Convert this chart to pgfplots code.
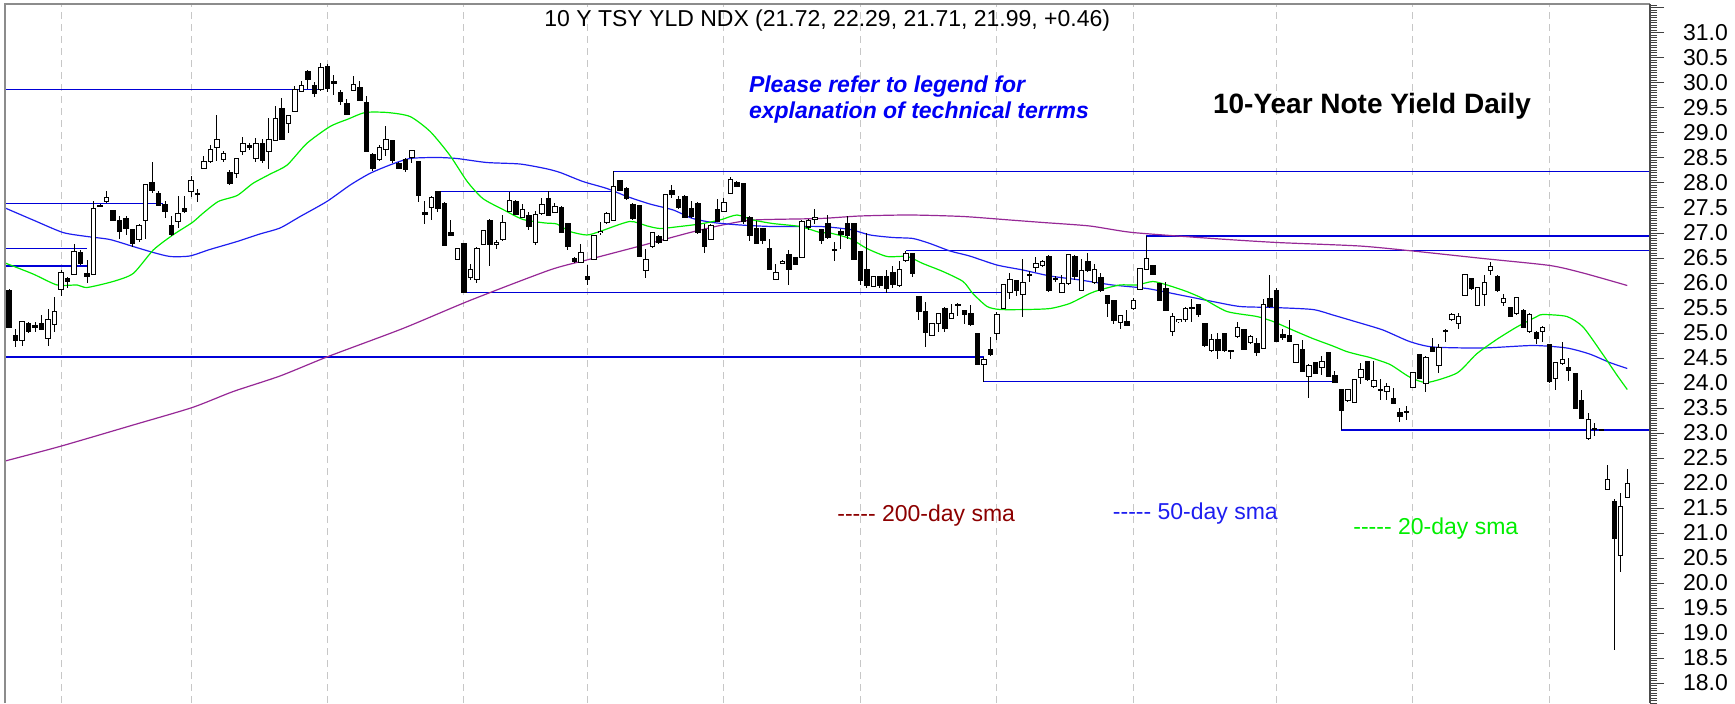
\documentclass[border=0pt]{standalone}
\usepackage{pgfplots}
\pgfplotsset{compat=1.18}
\usepackage{pgfplotstable}
\usepackage{fontspec}
\setmainfont{Liberation Sans}

\definecolor{smagreen}{RGB}{0,238,0}
\definecolor{smablue}{RGB}{30,30,240}
\definecolor{hlblue}{RGB}{0,0,215}
\definecolor{smapurple}{RGB}{150,40,150}
\definecolor{darkred}{RGB}{140,0,0}
\definecolor{noteblue}{RGB}{0,0,245}

% daily bars: index, open, high, low, close
\pgfplotstableread{
i o h l c
0 25.85 25.89 25.11 25.13
1 24.95 25.09 24.73 24.87
2 24.86 25.25 24.74 25.23
3 25.19 25.23 25.00 25.05
4 25.14 25.23 25.02 25.13
5 25.19 25.37 25.06 25.09
6 24.91 25.49 24.74 25.27
7 25.19 25.73 25.03 25.43
8 25.89 26.26 25.74 26.21
9 26.09 26.13 25.91 26.05
10 26.19 26.79 26.16 26.63
11 26.61 26.66 26.36 26.41
12 26.18 26.47 26.00 26.15
13 26.19 27.63 26.18 27.49
14 27.55 27.57 27.53 27.55
15 27.65 27.83 27.59 27.71
16 27.44 27.46 27.23 27.27
17 27.25 27.34 26.89 27.04
18 27.29 27.33 26.96 27.11
19 27.06 27.09 26.73 26.81
20 26.89 27.19 26.83 27.15
21 27.25 27.97 26.89 27.95
22 28.01 28.41 27.79 27.87
23 27.78 27.83 27.53 27.56
24 27.57 27.63 27.29 27.44
25 27.14 27.34 26.95 26.98
26 27.23 27.73 27.11 27.38
27 27.48 27.73 27.39 27.44
28 27.83 28.13 27.71 28.03
29 27.79 27.87 27.61 27.79
30 28.31 28.54 28.27 28.43
31 28.44 28.76 28.39 28.66
32 28.71 29.36 28.43 28.86
33 28.49 28.63 28.41 28.59
34 28.21 28.26 27.96 28.01
35 28.19 28.49 28.09 28.47
36 28.63 28.91 28.56 28.78
37 28.73 28.79 28.66 28.72
38 28.51 28.89 28.41 28.78
39 28.78 28.87 28.39 28.46
40 28.65 29.29 28.27 28.86
41 28.86 29.53 28.83 29.28
42 29.49 29.69 28.85 28.89
43 29.19 29.36 28.99 29.33
44 29.45 29.93 29.43 29.87
45 29.84 30.03 29.81 29.93
46 30.23 30.25 29.87 30.09
47 29.94 30.01 29.71 29.79
48 29.87 30.39 29.83 30.29
49 30.31 30.38 29.81 29.89
50 30.02 30.16 29.76 30.00
51 29.81 29.86 29.56 29.64
52 29.59 29.67 29.37 29.39
53 29.87 30.13 29.85 29.97
54 29.89 30.03 29.64 29.66
55 29.59 29.73 28.61 28.63
56 28.56 28.59 28.23 28.29
57 28.49 28.76 28.43 28.71
58 28.67 29.14 28.54 28.86
59 28.83 28.86 28.39 28.45
60 28.37 28.42 28.27 28.29
61 28.46 28.49 28.21 28.28
62 28.51 28.66 28.39 28.64
63 28.41 28.43 27.61 27.75
64 27.39 27.63 27.19 27.38
65 27.51 27.73 27.25 27.69
66 27.81 27.83 27.41 27.49
67 27.58 27.61 26.74 26.76
68 27.01 27.27 26.94 26.96
69 26.49 26.71 26.47 26.68
70 26.79 26.80 25.81 25.83
71 26.13 26.39 26.07 26.26
72 26.09 26.73 26.01 26.69
73 26.79 27.07 26.78 27.04
74 27.25 27.27 26.34 26.78
75 26.78 26.86 26.69 26.81
76 26.89 27.36 26.85 27.21
77 27.45 27.81 27.41 27.65
78 27.63 27.66 27.35 27.39
79 27.33 27.58 27.29 27.47
80 27.33 27.41 27.07 27.14
81 26.83 27.43 26.76 27.36
82 27.39 27.69 27.36 27.56
83 27.69 27.83 27.33 27.36
84 27.43 27.59 27.39 27.53
85 27.49 27.53 27.01 27.03
86 27.19 27.21 26.66 26.74
87 26.49 26.53 26.41 26.44
88 26.43 26.79 26.41 26.61
89 26.13 26.36 25.96 26.09
90 26.49 26.96 26.47 26.94
91 27.02 27.21 26.96 27.03
92 27.23 27.41 27.19 27.39
93 27.25 28.23 27.23 27.91
94 28.05 28.06 27.83 27.86
95 27.87 27.91 27.65 27.69
96 27.56 27.59 27.26 27.29
97 27.53 27.56 26.53 26.55
98 26.27 26.69 26.11 26.47
99 26.74 27.03 26.71 27.01
100 26.93 26.96 26.79 26.83
101 26.86 27.76 26.85 27.75
102 27.84 27.96 27.69 27.78
103 27.66 27.73 27.47 27.51
104 27.73 27.76 27.29 27.33
105 27.48 27.63 27.29 27.33
106 27.58 27.61 26.99 27.03
107 27.06 27.19 26.61 26.74
108 26.89 27.19 26.87 27.15
109 27.46 27.67 27.23 27.25
110 27.45 27.69 27.43 27.61
111 27.81 28.11 27.78 28.06
112 28.01 28.04 27.91 27.94
113 27.98 27.99 27.19 27.23
114 27.29 27.33 26.85 26.96
115 27.08 27.23 26.78 26.81
116 27.08 27.09 26.79 26.86
117 26.68 26.88 26.27 26.29
118 26.09 26.39 26.07 26.21
119 26.41 26.46 26.39 26.42
120 26.56 26.66 25.96 26.29
121 26.51 26.53 26.37 26.39
122 26.53 27.25 26.51 27.23
123 27.13 27.29 27.06 27.25
124 27.29 27.47 27.19 27.30
125 27.06 27.09 26.78 26.87
126 27.18 27.36 26.89 26.93
127 26.67 26.83 26.45 26.66
128 27.03 27.09 26.69 26.98
129 27.18 27.34 26.89 26.96
130 27.18 27.19 26.47 26.49
131 26.63 26.64 25.96 26.07
132 26.26 27.01 25.91 25.96
133 25.94 26.14 25.93 26.13
134 26.13 26.14 25.91 25.96
135 26.13 26.26 25.81 25.91
136 26.21 26.34 25.91 25.98
137 25.96 26.45 25.93 26.26
138 26.47 26.65 26.43 26.58
139 26.58 26.61 26.13 26.21
140 25.73 25.74 25.26 25.45
141 25.43 25.63 24.73 25.03
142 24.96 25.21 24.94 25.19
143 25.21 25.39 25.03 25.38
144 25.49 25.53 25.03 25.11
145 25.31 25.59 25.29 25.38
146 25.56 25.61 25.34 25.56
147 25.45 25.46 25.19 25.38
148 25.38 25.56 25.14 25.19
149 24.99 25.01 24.37 24.39
150 24.38 24.53 24.03 24.47
151 24.67 24.93 24.54 24.58
152 25.01 25.43 24.87 25.36
153 25.51 25.99 25.49 25.96
154 25.83 26.21 25.69 26.07
155 26.05 26.06 25.74 25.86
156 25.78 26.49 25.33 26.01
157 26.16 26.25 26.03 26.16
158 26.33 26.53 26.23 26.39
159 26.36 26.46 26.33 26.43
160 26.53 26.56 25.83 25.87
161 26.09 26.14 26.03 26.08
162 25.83 26.16 25.81 25.98
163 26.00 26.59 25.97 26.57
164 26.53 26.56 26.06 26.14
165 25.87 26.49 25.85 26.25
166 26.43 26.61 26.23 26.26
167 26.03 26.39 25.99 26.26
168 26.11 26.21 25.83 25.87
169 25.74 25.75 25.33 25.61
170 25.65 25.66 25.18 25.27
171 25.23 25.36 25.09 25.34
172 25.22 25.47 25.15 25.17
173 25.51 25.71 25.46 25.65
174 25.89 26.31 25.87 26.29
175 26.29 26.94 26.26 26.49
176 26.34 26.36 26.16 26.18
177 25.98 26.01 25.65 25.67
178 25.89 26.03 25.45 25.47
179 25.05 25.41 24.94 25.33
180 25.24 25.29 25.21 25.26
181 25.29 25.53 25.23 25.49
182 25.51 25.69 25.23 25.51
183 25.56 25.59 25.33 25.39
184 25.18 25.19 24.73 24.76
185 24.66 24.98 24.63 24.86
186 24.87 25.00 24.49 24.66
187 24.98 25.01 24.63 24.66
188 24.65 24.67 24.49 24.65
189 24.94 25.23 24.91 25.11
190 25.07 25.09 24.67 24.69
191 24.83 24.96 24.79 24.93
192 24.79 24.91 24.54 24.63
193 24.71 25.69 24.69 25.56
194 25.69 26.16 25.51 25.54
195 25.85 25.91 24.83 24.85
196 24.96 25.09 24.87 24.93
197 24.95 25.26 24.83 24.85
198 24.43 24.78 24.41 24.76
199 24.67 24.86 24.23 24.25
200 24.14 24.39 23.71 24.34
201 24.41 24.43 24.18 24.21
202 24.33 24.54 24.16 24.43
203 24.61 24.63 24.13 24.14
204 24.14 24.25 24.01 24.03
205 23.87 23.89 23.06 23.46
206 23.66 23.89 23.63 23.87
207 23.63 24.09 23.61 24.06
208 24.12 24.41 23.99 24.26
209 24.43 24.45 24.04 24.08
210 23.95 24.45 23.91 24.04
211 23.87 24.08 23.66 23.87
212 23.85 24.00 23.66 23.93
213 23.68 23.91 23.58 23.60
214 23.41 23.51 23.23 23.35
215 23.43 23.54 23.26 23.43
216 23.93 24.23 23.91 24.20
217 24.56 24.58 24.08 24.10
218 24.01 24.54 23.83 24.50
219 24.70 24.91 24.62 24.65
220 24.37 24.79 24.20 24.70
221 25.04 25.08 24.83 25.04
222 25.29 25.41 25.25 25.37
223 25.20 25.40 25.08 25.33
224 25.76 26.18 25.75 26.16
225 26.08 26.09 25.87 25.91
226 25.56 25.93 25.54 25.91
227 25.79 26.16 25.54 26.01
228 26.26 26.43 26.16 26.33
229 26.12 26.16 25.83 25.87
230 25.63 25.79 25.54 25.68
231 25.50 25.51 25.33 25.35
232 25.40 25.73 25.37 25.70
233 25.45 25.48 25.10 25.12
234 25.04 25.40 25.01 25.37
235 25.00 25.04 24.79 24.91
236 25.04 25.15 24.83 25.10
237 24.76 24.79 24.01 24.04
238 24.10 24.41 23.87 24.40
239 24.41 24.83 24.37 24.47
240 24.31 24.50 24.04 24.26
241 24.18 24.20 23.50 23.51
242 23.65 23.87 23.29 23.31
243 22.90 23.40 22.87 23.27
244 23.08 23.20 22.95 23.08
245 23.07 23.09 23.05 23.07
246 21.89 22.36 21.87 22.06
247 21.63 21.69 18.66 20.90
248 20.56 21.80 20.23 21.53
249 21.72 22.29 21.71 21.99
}\ohlc

\begin{document}
\begin{tikzpicture}
\path[use as bounding box] (-2.5pt,0pt) rectangle (865pt,351.5pt);
\begin{axis}[
  at={(0pt,0pt)}, anchor=south west,
  scale only axis, width=822.5pt, height=349.5pt,
  xmin=-0.62, xmax=252.5, ymin=17.6, ymax=31.58,
  axis line style={draw=none},
  clip mode=individual,
  xtick={8,28,49,70,89,110,131,152,173,195,216,237},
  xticklabels={},
  xtick style={draw=none},
  xmajorgrids,
  major x grid style={draw=black!22, dash pattern=on 3.5pt off 2.5pt, line width=0.5pt},
  ytick={18,18.5,...,31},
  extra y ticks={31.5}, extra y tick labels={},
  minor ytick={17.6,17.65,...,31.56},
  ytick pos=right, yticklabel pos=right,
  tick align=outside,
  major tick length=7pt, minor tick length=3.5pt,
  ytick style={black!75, line width=0.5pt},
  yticklabel style={font=\fontsize{11.5}{13}\selectfont, xshift=6pt,
    /pgf/number format/fixed, /pgf/number format/fixed zerofill,
    /pgf/number format/precision=1, /pgf/number format/assume math mode=true},
]

% support and resistance lines
\addplot[hlblue, line width=0.55pt, forget plot] coordinates {(-0.62,29.87) (48.2,29.87)};
\addplot[hlblue, line width=0.55pt, forget plot] coordinates {(-0.62,27.59) (23.7,27.59)};
\addplot[hlblue, line width=0.55pt, forget plot] coordinates {(-0.62,26.69) (12,26.69)};
\addplot[hlblue, line width=0.55pt, forget plot] coordinates {(-0.62,26.34) (12,26.34)};
\addplot[hlblue, line width=0.55pt, forget plot] coordinates {(-0.62,24.52) (150,24.52)};
\addplot[hlblue, line width=0.55pt, forget plot] coordinates {(150,24.03) (203.7,24.03)};
\addplot[hlblue, line width=0.55pt, forget plot] coordinates {(205,23.06) (252.5,23.06)};
\addplot[hlblue, line width=0.55pt, forget plot] coordinates {(66,27.83) (93,27.83)};
\addplot[hlblue, line width=0.55pt, forget plot] coordinates {(93,28.23) (252.5,28.23)};
\addplot[hlblue, line width=0.55pt, forget plot] coordinates {(70,25.81) (153,25.81)};
\addplot[hlblue, line width=0.55pt, forget plot] coordinates {(138,26.65) (252.5,26.65)};
\addplot[hlblue, line width=0.55pt, forget plot] coordinates {(175,26.94) (252.5,26.94)};

% 200-day sma
\addplot[smapurple, line width=0.6pt, smooth, tension=0.4] coordinates {
(-0.6,22.44) (7.8,22.73) (19.1,23.16) (28.2,23.51) (34.5,23.83) (41.7,24.14)
(49.1,24.53) (60.6,25.09) (70.9,25.65) (83.2,26.26) (88.9,26.46) (97.1,26.74)
(104.8,27.01) (109.8,27.16) (114.5,27.26) (124.8,27.29) (130.9,27.34) (138.6,27.36)
(146.8,27.33) (154.0,27.26) (159.1,27.21) (166.3,27.14) (172.9,27.01) (185.2,26.89)
(195.1,26.81) (207.8,26.74) (216.0,26.64) (226.8,26.49) (237.1,26.35) (242.2,26.20)
(249.0,25.95)};

% 50-day sma
\addplot[smablue, line width=0.6pt, smooth, tension=0.4] coordinates {
(-0.6,27.50) (3.7,27.26) (8.3,27.01) (12.0,26.93) (15.5,26.87) (19.1,26.73)
(22.2,26.61) (24.8,26.53) (27.8,26.54) (30.9,26.67) (35.1,26.83) (38.6,26.98)
(41.7,27.10) (44.8,27.33) (48.9,27.63) (52.5,27.96) (55.5,28.19) (58.6,28.36)
(61.7,28.49) (65.8,28.51) (68.9,28.49) (73.5,28.41) (78.6,28.38) (82.5,28.29)
(84.8,28.21) (88.3,28.03) (92.0,27.89) (95.1,27.73) (98.6,27.58) (102.2,27.46)
(105.2,27.29) (108.3,27.21) (112.5,27.16) (117.5,27.13) (124.8,27.13) (129.4,27.07)
(132.5,26.96) (136.0,26.91) (139.1,26.89) (141.7,26.79) (144.8,26.64) (147.8,26.54)
(152.0,26.36) (156.0,26.26) (160.2,26.14) (164.8,26.06) (169.8,25.96) (175.1,25.89)
(180.2,25.76) (185.2,25.63) (189.4,25.53) (194.5,25.51) (200.6,25.47) (203.7,25.36)
(207.1,25.23) (211.4,25.06) (215.5,24.83) (219.1,24.72) (226.8,24.70) (234.5,24.75)
(239.7,24.70) (243.2,24.58) (246.3,24.41) (249.0,24.29)};

% 20-day sma
\addplot[smagreen, line width=0.6pt, smooth, tension=0.4] coordinates {
(-0.6,26.40) (3.7,26.18) (7.4,25.96) (10.5,25.96) (12.0,25.91) (16.0,26.03)
(19.1,26.19) (22.2,26.66) (25.2,26.96) (28.2,27.21) (29.8,27.39) (32.2,27.63)
(35.1,27.75) (37.5,27.99) (40.2,28.18) (42.8,28.36) (45.8,28.79) (49.4,29.13)
(52.2,29.28) (54.8,29.41) (58.2,29.41) (61.7,29.33) (64.8,29.03) (67.8,28.56)
(70.5,28.03) (72.9,27.69) (76.0,27.47) (79.1,27.27) (82.5,27.20) (84.3,27.18)
(86.3,27.03) (88.9,26.96) (90.9,27.03) (95.5,27.23) (98.2,27.14) (100.2,27.09)
(103.2,27.13) (106.3,27.18) (109.4,27.26) (112.0,27.36) (114.5,27.26) (117.5,27.19)
(121.7,27.13) (124.8,27.01) (126.3,27.00) (129.4,26.89) (132.0,26.69) (135.1,26.53)
(138.2,26.53) (140.6,26.39) (143.7,26.23) (146.8,26.03) (148.3,25.79) (150.5,25.53)
(152.5,25.47) (156.6,25.47) (160.2,25.49) (163.2,25.59) (166.3,25.79) (167.8,25.86)
(170.9,25.96) (173.5,25.96) (176.0,26.03) (178.2,25.96) (181.2,25.83) (183.7,25.69)
(187.4,25.43) (192.0,25.33) (194.5,25.23) (197.5,25.06) (200.6,24.89) (203.7,24.74)
(205.8,24.63) (207.8,24.56) (209.4,24.51) (212.5,24.37) (215.5,24.12) (218.2,24.01)
(222.8,24.20) (225.8,24.58) (228.9,24.87) (232.0,25.12) (235.1,25.33) (236.0,25.37)
(239.7,25.33) (242.2,25.12) (245.2,24.58) (247.4,24.16) (249.0,23.87)};

% wicks
\addplot[draw=none, mark=none, forget plot,
  error bars/.cd, y dir=both, y explicit, error mark=none,
  error bar style={draw=black, line width=0.5pt}]
  table[x=i, y=o, y error plus expr=\thisrow{h}-\thisrow{o},
        y error minus expr=\thisrow{o}-\thisrow{l}] {\ohlc};
% bodies: black outline / filled
\addplot[draw=none, mark=none, forget plot,
  error bars/.cd, y dir=both, y explicit, error mark=none,
  error bar style={draw=black, line width=2.7pt}]
  table[x=i, y expr=(\thisrow{o}+\thisrow{c})/2,
        y error expr=abs(\thisrow{c}-\thisrow{o})/2+0.02] {\ohlc};
% bodies: hollow for rising days
\addplot[draw=none, mark=none, forget plot,
  error bars/.cd, y dir=both, y explicit, error mark=none,
  error bar style={draw=white, line width=1.7pt}]
  table[x=i, y expr=(\thisrow{o}+\thisrow{c})/2,
        y error expr={\thisrow{c}>\thisrow{o} ? (\thisrow{c}-\thisrow{o})/2 : 0}] {\ohlc};

% frame
\draw[black!45, line width=0.9pt] (rel axis cs:0,0) -- (rel axis cs:0,1) -- (rel axis cs:1,1);
\draw[black!70, line width=0.7pt] (rel axis cs:1,1) -- (rel axis cs:1,0);

% texts
\node[anchor=base, inner sep=0, font=\fontsize{11.5}{13}\selectfont] at (axis cs:125.9,31.13)
  {10 Y TSY YLD NDX (21.72, 22.29, 21.71, 21.99, +0.46)};
\node[anchor=base west, inner sep=0, text=noteblue, font=\fontsize{11.5}{13}\selectfont\bfseries\itshape]
  at (axis cs:113.8,29.80) {Please refer to legend for};
\node[anchor=base west, inner sep=0, text=noteblue, font=\fontsize{11.5}{13}\selectfont\bfseries\itshape]
  at (axis cs:113.8,29.29) {explanation of technical terrms};
\node[anchor=base west, inner sep=0, font=\fontsize{14}{16}\selectfont\bfseries]
  at (axis cs:185.2,29.39) {10-Year Note Yield Daily};
\node[anchor=base west, inner sep=0, text=darkred, font=\fontsize{11.5}{13}\selectfont]
  at (axis cs:127.4,21.23) {-{}-{}-{}-{}- 200-day sma};
\node[anchor=base west, inner sep=0, text=smablue, font=\fontsize{11.5}{13}\selectfont]
  at (axis cs:169.8,21.28) {-{}-{}-{}-{}- 50-day sma};
\node[anchor=base west, inner sep=0, text=smagreen, font=\fontsize{11.5}{13}\selectfont]
  at (axis cs:206.8,20.98) {-{}-{}-{}-{}- 20-day sma};
\end{axis}
\end{tikzpicture}
\end{document}
